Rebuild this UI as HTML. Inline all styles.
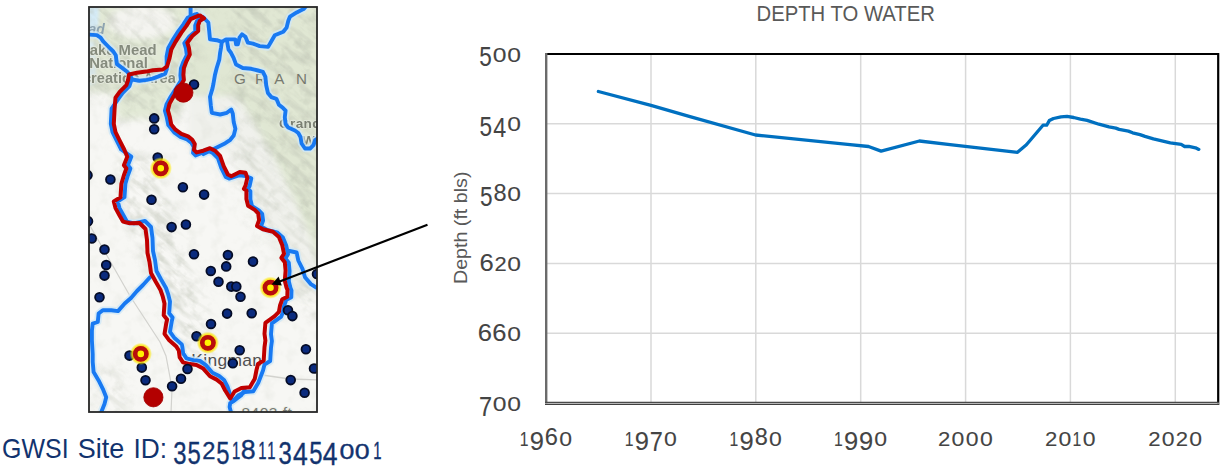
<!DOCTYPE html>
<html><head><meta charset="utf-8"><title>Depth to Water</title>
<style>
html,body{margin:0;padding:0;background:#fff;width:1225px;height:475px;overflow:hidden}
svg{position:absolute;left:0;top:0;font-family:"Liberation Sans",Arial,sans-serif}
</style></head><body>
<svg width="1225" height="475" viewBox="0 0 1225 475">
<defs><clipPath id="mc"><rect x="89" y="7" width="228" height="405"/></clipPath><filter id="bl" x="-20%" y="-20%" width="140%" height="140%"><feGaussianBlur stdDeviation="3"/></filter><filter id="bl1" x="-20%" y="-20%" width="140%" height="140%"><feGaussianBlur stdDeviation="1.5"/></filter><filter id="tb" x="-5%" y="-20%" width="110%" height="140%"><feGaussianBlur stdDeviation="0.45"/></filter><filter id="rb" x="-60%" y="-60%" width="220%" height="220%"><feGaussianBlur stdDeviation="0.5"/></filter><filter id="bl6" x="-30%" y="-30%" width="160%" height="160%"><feGaussianBlur stdDeviation="6"/></filter><filter id="tex" x="0" y="0" width="100%" height="100%"><feTurbulence type="fractalNoise" baseFrequency="0.08" numOctaves="3" seed="11"/><feColorMatrix type="matrix" values="0 0 0 0 0.45  0 0 0 0 0.48  0 0 0 0 0.40  0 0 0 -2.4 1.25"/></filter><filter id="rid" x="0" y="0" width="100%" height="100%"><feTurbulence type="fractalNoise" baseFrequency="0.035 0.16" numOctaves="3" seed="4"/><feColorMatrix type="matrix" values="0 0 0 0 0.50  0 0 0 0 0.53  0 0 0 0 0.45  3.2 0 0 0 -1.45"/></filter><mask id="tm" maskUnits="userSpaceOnUse" x="80" y="0" width="250" height="420"><g filter="url(#bl6)" fill="#fff"><path d="M86,0 L210,0 L205,40 L190,70 L178,118 L118,120 L112,96 L86,96 Z"/><path d="M228,0 L330,0 L330,300 L300,260 L270,215 L240,160 L232,100 Z"/><path d="M120,150 L150,160 L178,225 L200,295 L215,345 L196,358 L168,322 L150,272 L128,222 L120,190 Z" fill="#fff"/><path d="M98,368 L124,370 L128,420 L96,420 Z" fill="#999"/><path d="M232,150 L262,190 L290,235 L270,245 L240,200 Z" fill="#999"/><path d="M290,200 L330,230 L330,330 L295,300 Z" fill="#aaa"/><path d="M196,300 L215,305 L205,330 Z" fill="#777"/><path d="M236,100 L252,125 L272,160 L290,200 L305,240 L296,246 L278,205 L258,168 L240,135 L232,112 Z" fill="#000"/><path d="M196,100 L230,100 L234,150 L200,150 Z" fill="#000"/><ellipse cx="142" cy="20" rx="32" ry="15" fill="#222"/></g></mask><radialGradient id="halo"><stop offset="0.6" stop-color="#ffd800" stop-opacity="1"/><stop offset="0.8" stop-color="#ffe400" stop-opacity="0.75"/><stop offset="1" stop-color="#fff000" stop-opacity="0"/></radialGradient></defs>
<g clip-path="url(#mc)">
<rect x="88" y="6" width="230" height="407" fill="#f7f7f4"/>
<g filter="url(#bl)">
<path d="M86,4 L200,4 L199,40 L192,64 L184,100 L176,118 L118,119 L112,93 L86,91 Z" fill="#e2e9d6" filter="url(#bl1)"/>
<ellipse cx="142" cy="22" rx="34" ry="17" fill="#f4f4f0"/>
<path d="M190,4 L322,4 L322,282 L312,242 L295,202 L276,162 L256,127 L241,102 L232,96 L190,96 Z" fill="#e0e7d3"/>
<path d="M188,96 L232,96 L241,102 L256,127 L276,162 L295,202 L312,242 L322,282 L322,300 L292,300 L270,245 L250,205 L240,175 L232,150 L188,150 Z" fill="#f0f1ec"/>
</g>
<path d="M86,4 L99,4 L98,30 L94,33 L86,34 Z" fill="#d5ebf6" filter="url(#bl1)"/>
<ellipse cx="197" cy="12" rx="7" ry="6" fill="#d8eef6" filter="url(#bl1)"/>
<path d="M86,40 L95,42 L96,84 L86,86 Z" fill="#dcebee" filter="url(#bl1)"/>
<rect x="88" y="6" width="230" height="407" filter="url(#tex)" opacity="0.12"/>
<rect x="88" y="6" width="230" height="407" filter="url(#tex)" opacity="0.35" mask="url(#tm)"/>
<g mask="url(#tm)"><rect x="-200" y="-200" width="700" height="800" filter="url(#rid)" opacity="0.42" transform="rotate(40 200 200)"/></g>
</g>
<g clip-path="url(#mc)" font-family="Liberation Sans, sans-serif">
<path d="M89,224 L130,296 L160,342 L166,356 L172,388 L171,414" fill="none" stroke="#d2d2ce" stroke-width="1.2"/>
<path d="M262,375 L290,379 L320,380" fill="none" stroke="#d2d2ce" stroke-width="1.4"/>
<text x="80.6" y="54.6" font-size="14" textLength="76" lengthAdjust="spacingAndGlyphs" font-weight="bold" fill="#858b7d" stroke="#e6eadf" stroke-width="1.6" paint-order="stroke" stroke-linejoin="round" filter="url(#tb)">Lake Mead</text>
<text x="89.2" y="67.5" font-size="14" textLength="58.6" lengthAdjust="spacingAndGlyphs" font-weight="bold" fill="#858b7d" stroke="#e6eadf" stroke-width="1.6" paint-order="stroke" stroke-linejoin="round" filter="url(#tb)">National</text>
<text x="64.3" y="83.4" font-size="14" textLength="111.5" lengthAdjust="spacingAndGlyphs" font-weight="bold" fill="#858b7d" stroke="#e6eadf" stroke-width="1.6" paint-order="stroke" stroke-linejoin="round" filter="url(#tb)">Recreation Area</text>
<text x="88.5" y="34.2" font-size="14" font-style="italic" font-weight="bold" fill="#8ea3b0" filter="url(#tb)">ad</text>
<text y="84" font-size="15.2" text-anchor="middle" fill="#77796f"><tspan x="240">G</tspan><tspan x="260.5">R</tspan><tspan x="279.2">A</tspan><tspan x="301.5">N</tspan></text>
<text x="279.0" y="127.7" font-size="13.6" letter-spacing="0.4" font-weight="bold" fill="#7a7f72" stroke="#e6eadf" stroke-width="1.4" paint-order="stroke" stroke-linejoin="round" filter="url(#tb)">Grand</text>
<text x="302.2" y="144.5" font-size="13.6" font-weight="bold" fill="#7a7f72" stroke="#e6eadf" stroke-width="1.4" paint-order="stroke" stroke-linejoin="round" filter="url(#tb)">Wash</text>
<text x="241.5" y="418.2" font-size="15.5" letter-spacing="0.5" fill="#797c74" stroke="#eef0ea" stroke-width="2.2" paint-order="stroke" stroke-linejoin="round">8403 ft</text>
<text x="191.3" y="366.2" font-size="17.4" letter-spacing="0.35" fill="#505050" stroke="#f4f4f2" stroke-width="1.6" paint-order="stroke" stroke-linejoin="round">Kingman</text>
<path d="M86.0,34.5 L96.8,35.1 L100.6,37.6 L103.2,41.4 L108.2,46.5 L113.3,51.5 L115.8,55.3 L116.4,60.4 L117.0,64.2 L122.1,67.9 L127.2,71.7 L130.5,76.0 L132.0,79.5" fill="none" stroke="#cfe7f6" stroke-width="7.5" stroke-linejoin="round" stroke-linecap="round" opacity="0.8"/>
<path d="M190.6,4.0 L190.6,17.5 L186.0,22.0" fill="none" stroke="#cfe7f6" stroke-width="7.5" stroke-linejoin="round" stroke-linecap="round" opacity="0.8"/>
<path d="M203.0,17.0 L208.3,22.5 L209.2,31.0 L210.0,39.4 L216.7,40.2 L221.8,41.9 L221.0,47.8 L220.1,52.8 L219.3,59.6 L216.7,68.0 L215.0,74.7 L213.4,84.0 L212.5,88.4 L210.0,96.8 L210.8,105.3 L211.8,112.8 L220.2,114.5 L226.9,112.8 L231.2,109.5 L232.8,113.7 L233.7,122.1 L235.4,128.8 L233.7,135.6 L230.3,139.8 L225.3,143.2 L216.8,147.4 L210.1,150.7 L203.4,154.1" fill="none" stroke="#cfe7f6" stroke-width="7.5" stroke-linejoin="round" stroke-linecap="round" opacity="0.8"/>
<path d="M221.8,41.9 L226.0,39.4 L235.3,39.4 L236.1,44.4 L237.8,44.4 L239.5,37.7 L242.0,34.3 L245.4,36.8 L247.9,42.7 L253.0,43.6 L259.7,46.1 L268.1,46.9 L271.5,41.0 L274.8,35.2 L283.3,31.8 L286.6,27.6 L288.3,20.8 L290.0,16.6 L296.7,12.4 L303.5,9.1 L308.0,4.0" fill="none" stroke="#cfe7f6" stroke-width="7.5" stroke-linejoin="round" stroke-linecap="round" opacity="0.8"/>
<path d="M227.0,41.0 L228.5,49.5 L231.0,52.8 L233.6,57.9 L236.1,64.6 L242.8,68.0 L251.3,68.8 L258.0,70.5 L262.9,71.8 L265.4,76.9 L266.2,85.3 L267.9,92.9 L271.3,97.1 L276.4,98.8 L278.9,104.7 L283.1,108.1 L285.6,110.6 L284.8,117.3 L285.6,124.1 L288.2,127.5 L294.9,130.5 L298.3,133.0 L300.5,137.0 L301.6,143.5 L305.0,148.5 L310.1,148.5 L313.5,145.2 L315.1,140.1 L320.0,137.0" fill="none" stroke="#cfe7f6" stroke-width="7.5" stroke-linejoin="round" stroke-linecap="round" opacity="0.8"/>
<path d="M150.0,277.3 L143.0,285.0 L137.0,291.0 L131.0,298.0 L124.7,303.5 L118.0,311.1 L111.3,310.2 L102.8,310.2 L98.6,313.6 L97.8,322.0 L92.7,323.7 L91.9,330.4 L91.9,340.5 L92.7,354.0 L92.7,361.9 L93.6,372.0 L98.6,380.4 L102.8,388.8 L106.2,397.3 L104.5,404.0 L100.5,414.0" fill="none" stroke="#cfe7f6" stroke-width="7.5" stroke-linejoin="round" stroke-linecap="round" opacity="0.8"/>
<path d="M244.6,390.0 L241.3,395.2 L238.0,397.8 L233.5,401.1 L230.2,403.1 L229.6,407.0 L231.5,414.0" fill="none" stroke="#cfe7f6" stroke-width="7.5" stroke-linejoin="round" stroke-linecap="round" opacity="0.8"/>
<path d="M289.5,251.0 L296.6,252.5 L298.3,260.5 L302.5,268.9 L305.0,277.3 L310.9,284.1 L316.0,287.5 L320.0,289.0" fill="none" stroke="#cfe7f6" stroke-width="7.5" stroke-linejoin="round" stroke-linecap="round" opacity="0.8"/>
<path d="M197.0,16.0 L201.1,18.8 L196.9,21.3 L195.2,25.5 L195.2,31.4 L189.3,36.5 L184.3,43.2 L185.9,48.3 L186.8,55.0 L183.4,61.8 L180.9,68.5 L180.4,75.2 L180.9,80.5 L175.8,88.9 L170.8,96.5 L166.6,104.1 L164.9,110.8 L166.6,116.7 L168.3,125.1 L174.5,132.7 L180.4,136.9 L187.1,139.4 L191.3,142.8 L193.8,147.0 L193.0,152.9 L195.5,155.4 L201.1,153.1 L207.8,150.6 L212.8,153.1 L217.9,158.2 L221.5,168.5 L225.7,176.9 L229.1,178.6 L239.7,175.2 L245.6,176.0 L251.3,178.4 L249.6,186.0 L247.9,189.3 L250.4,191.0 L250.4,199.5 L252.1,206.2 L258.8,210.4 L262.2,213.9 L263.1,220.6 L261.0,226.4 L266.9,229.8 L277.0,232.3 L282.9,237.4 L286.3,245.8 L288.0,254.2 L285.4,258.4 L288.8,262.7 L289.6,271.1 L288.8,281.2 L290.5,288.0 L291.5,290.5 L291.3,297.2 L286.3,299.8 L284.1,305.7 L282.9,312.4 L281.2,316.6 L271.9,323.4 L271.0,334.3 L271.9,341.1 L271.0,347.8 L270.2,361.0 L264.5,364.5 L263.0,370.5 L258.3,382.7 L253.3,391.2 L244.9,392.0 L238.1,395.5 L232.5,401.5 L227.7,387.0 L224.3,380.3 L219.2,376.1 L212.5,372.7 L205.8,365.1 L200.0,360.9 L193.3,360.1 L186.5,358.4 L183.2,353.4 L182.3,346.6 L181.8,344.4 L174.2,337.7 L170.0,331.8 L171.7,321.7 L172.6,317.5 L169.2,313.3 L170.0,301.5 L168.3,294.7 L166.0,288.0 L161.1,279.5 L156.5,271.0 L155.0,260.0 L153.0,251.0 L152.5,238.0 L151.0,227.0 L145.0,221.0 L133.8,223.3 L127.0,221.6 L123.7,215.7 L119.5,208.1 L117.8,201.4 L124.5,197.2 L125.4,183.7 L127.9,175.3 L130.4,168.5 L127.9,165.2 L131.3,156.7 L121.2,149.5 L116.7,140.6 L112.5,132.2 L110.8,123.8 L111.6,108.6 L118.5,98.7 L122.7,92.8 L129.4,86.1 L131.1,81.0 L132.0,79.5 L139.5,80.7 L146.8,79.9 L152.5,78.6 L158.0,76.6 L165.2,73.6 L166.8,69.0 L166.6,56.4 L168.3,48.0 L172.5,40.4 L178.4,31.1 L183.4,24.4 L187.6,17.7 L195.2,14.3 L197.0,14.0 Z" fill="none" stroke="#cfe7f6" stroke-width="7.5" stroke-linejoin="round" stroke-linecap="round" opacity="0.8"/>
<path d="M86.0,34.5 L96.8,35.1 L100.6,37.6 L103.2,41.4 L108.2,46.5 L113.3,51.5 L115.8,55.3 L116.4,60.4 L117.0,64.2 L122.1,67.9 L127.2,71.7 L130.5,76.0 L132.0,79.5" fill="none" stroke="#1879f2" stroke-width="3.9" stroke-linejoin="round" stroke-linecap="round"/>
<path d="M190.6,4.0 L190.6,17.5 L186.0,22.0" fill="none" stroke="#1879f2" stroke-width="3.9" stroke-linejoin="round" stroke-linecap="round"/>
<path d="M203.0,17.0 L208.3,22.5 L209.2,31.0 L210.0,39.4 L216.7,40.2 L221.8,41.9 L221.0,47.8 L220.1,52.8 L219.3,59.6 L216.7,68.0 L215.0,74.7 L213.4,84.0 L212.5,88.4 L210.0,96.8 L210.8,105.3 L211.8,112.8 L220.2,114.5 L226.9,112.8 L231.2,109.5 L232.8,113.7 L233.7,122.1 L235.4,128.8 L233.7,135.6 L230.3,139.8 L225.3,143.2 L216.8,147.4 L210.1,150.7 L203.4,154.1" fill="none" stroke="#1879f2" stroke-width="3.9" stroke-linejoin="round" stroke-linecap="round"/>
<path d="M221.8,41.9 L226.0,39.4 L235.3,39.4 L236.1,44.4 L237.8,44.4 L239.5,37.7 L242.0,34.3 L245.4,36.8 L247.9,42.7 L253.0,43.6 L259.7,46.1 L268.1,46.9 L271.5,41.0 L274.8,35.2 L283.3,31.8 L286.6,27.6 L288.3,20.8 L290.0,16.6 L296.7,12.4 L303.5,9.1 L308.0,4.0" fill="none" stroke="#1879f2" stroke-width="3.9" stroke-linejoin="round" stroke-linecap="round"/>
<path d="M227.0,41.0 L228.5,49.5 L231.0,52.8 L233.6,57.9 L236.1,64.6 L242.8,68.0 L251.3,68.8 L258.0,70.5 L262.9,71.8 L265.4,76.9 L266.2,85.3 L267.9,92.9 L271.3,97.1 L276.4,98.8 L278.9,104.7 L283.1,108.1 L285.6,110.6 L284.8,117.3 L285.6,124.1 L288.2,127.5 L294.9,130.5 L298.3,133.0 L300.5,137.0 L301.6,143.5 L305.0,148.5 L310.1,148.5 L313.5,145.2 L315.1,140.1 L320.0,137.0" fill="none" stroke="#1879f2" stroke-width="3.9" stroke-linejoin="round" stroke-linecap="round"/>
<path d="M150.0,277.3 L143.0,285.0 L137.0,291.0 L131.0,298.0 L124.7,303.5 L118.0,311.1 L111.3,310.2 L102.8,310.2 L98.6,313.6 L97.8,322.0 L92.7,323.7 L91.9,330.4 L91.9,340.5 L92.7,354.0 L92.7,361.9 L93.6,372.0 L98.6,380.4 L102.8,388.8 L106.2,397.3 L104.5,404.0 L100.5,414.0" fill="none" stroke="#1879f2" stroke-width="3.9" stroke-linejoin="round" stroke-linecap="round"/>
<path d="M244.6,390.0 L241.3,395.2 L238.0,397.8 L233.5,401.1 L230.2,403.1 L229.6,407.0 L231.5,414.0" fill="none" stroke="#1879f2" stroke-width="3.9" stroke-linejoin="round" stroke-linecap="round"/>
<path d="M289.5,251.0 L296.6,252.5 L298.3,260.5 L302.5,268.9 L305.0,277.3 L310.9,284.1 L316.0,287.5 L320.0,289.0" fill="none" stroke="#1879f2" stroke-width="3.9" stroke-linejoin="round" stroke-linecap="round"/>
<path d="M197.0,16.0 L201.1,18.8 L196.9,21.3 L195.2,25.5 L195.2,31.4 L189.3,36.5 L184.3,43.2 L185.9,48.3 L186.8,55.0 L183.4,61.8 L180.9,68.5 L180.4,75.2 L180.9,80.5 L175.8,88.9 L170.8,96.5 L166.6,104.1 L164.9,110.8 L166.6,116.7 L168.3,125.1 L174.5,132.7 L180.4,136.9 L187.1,139.4 L191.3,142.8 L193.8,147.0 L193.0,152.9 L195.5,155.4 L201.1,153.1 L207.8,150.6 L212.8,153.1 L217.9,158.2 L221.5,168.5 L225.7,176.9 L229.1,178.6 L239.7,175.2 L245.6,176.0 L251.3,178.4 L249.6,186.0 L247.9,189.3 L250.4,191.0 L250.4,199.5 L252.1,206.2 L258.8,210.4 L262.2,213.9 L263.1,220.6 L261.0,226.4 L266.9,229.8 L277.0,232.3 L282.9,237.4 L286.3,245.8 L288.0,254.2 L285.4,258.4 L288.8,262.7 L289.6,271.1 L288.8,281.2 L290.5,288.0 L291.5,290.5 L291.3,297.2 L286.3,299.8 L284.1,305.7 L282.9,312.4 L281.2,316.6 L271.9,323.4 L271.0,334.3 L271.9,341.1 L271.0,347.8 L270.2,361.0 L264.5,364.5 L263.0,370.5 L258.3,382.7 L253.3,391.2 L244.9,392.0 L238.1,395.5 L232.5,401.5 L227.7,387.0 L224.3,380.3 L219.2,376.1 L212.5,372.7 L205.8,365.1 L200.0,360.9 L193.3,360.1 L186.5,358.4 L183.2,353.4 L182.3,346.6 L181.8,344.4 L174.2,337.7 L170.0,331.8 L171.7,321.7 L172.6,317.5 L169.2,313.3 L170.0,301.5 L168.3,294.7 L166.0,288.0 L161.1,279.5 L156.5,271.0 L155.0,260.0 L153.0,251.0 L152.5,238.0 L151.0,227.0 L145.0,221.0 L133.8,223.3 L127.0,221.6 L123.7,215.7 L119.5,208.1 L117.8,201.4 L124.5,197.2 L125.4,183.7 L127.9,175.3 L130.4,168.5 L127.9,165.2 L131.3,156.7 L121.2,149.5 L116.7,140.6 L112.5,132.2 L110.8,123.8 L111.6,108.6 L118.5,98.7 L122.7,92.8 L129.4,86.1 L131.1,81.0 L132.0,79.5 L139.5,80.7 L146.8,79.9 L152.5,78.6 L158.0,76.6 L165.2,73.6 L166.8,69.0 L166.6,56.4 L168.3,48.0 L172.5,40.4 L178.4,31.1 L183.4,24.4 L187.6,17.7 L195.2,14.3 L197.0,14.0 Z" fill="none" stroke="#1879f2" stroke-width="3.9" stroke-linejoin="round" stroke-linecap="round"/>
<path d="M200.0,15.5 L204.1,18.3 L199.9,20.8 L198.2,25.0 L198.2,30.9 L192.3,36.0 L187.3,42.7 L188.9,47.8 L189.8,54.5 L186.4,61.3 L183.9,68.0 L183.4,74.7 L183.9,80.0 L178.8,88.4 L173.8,96.0 L169.6,103.6 L167.9,110.3 L169.6,116.2 L171.3,124.6 L175.5,129.7 L181.4,133.9 L188.1,136.4 L192.3,139.8 L194.8,144.0 L194.0,149.9 L196.5,152.4 L203.3,150.7 L210.0,148.2 L215.0,150.7 L220.1,155.8 L223.7,166.1 L227.9,174.5 L231.3,176.2 L239.7,172.0 L245.6,172.8 L247.3,177.9 L245.6,185.5 L243.9,188.8 L246.4,190.5 L246.4,199.0 L248.1,205.7 L254.8,209.9 L258.2,213.4 L259.1,220.1 L257.0,225.9 L262.9,229.3 L273.0,231.8 L278.9,236.9 L282.3,245.3 L284.0,253.7 L281.4,257.9 L284.8,262.2 L285.6,270.6 L284.8,280.7 L286.5,287.5 L287.5,290.0 L287.3,296.7 L282.3,299.3 L280.1,305.2 L278.9,311.9 L274.7,316.1 L265.4,322.9 L264.5,333.8 L265.4,340.6 L264.5,347.3 L263.7,360.5 L258.0,364.0 L256.5,370.0 L254.8,378.7 L249.8,387.2 L241.4,388.0 L234.6,391.5 L230.2,398.5 L225.2,390.5 L221.8,383.8 L216.7,379.6 L210.0,376.2 L203.3,368.6 L196.5,364.9 L189.8,364.1 L183.0,362.4 L179.7,357.4 L178.8,350.6 L176.3,346.4 L168.7,339.7 L164.5,333.8 L166.2,323.7 L167.1,319.5 L163.7,315.3 L164.5,303.5 L162.8,296.7 L160.5,290.0 L155.6,281.5 L151.0,273.0 L149.5,262.0 L147.5,253.0 L147.0,240.0 L145.5,229.0 L139.5,223.0 L129.8,223.3 L123.0,221.6 L119.7,215.7 L115.5,208.1 L113.8,201.4 L120.5,197.2 L121.4,183.7 L123.9,175.3 L126.4,168.5 L123.9,165.2 L127.3,156.7 L124.2,149.5 L119.7,140.6 L115.5,132.2 L113.8,123.8 L114.6,108.6 L115.5,97.7 L119.7,91.8 L126.4,85.1 L128.1,80.0 L129.0,74.5 L137.0,72.8 L146.0,71.6 L153.0,70.2 L162.8,69.5 L167.1,66.3 L169.6,57.9 L171.3,49.5 L175.5,41.9 L181.4,32.6 L186.4,25.9 L190.6,19.2 L198.2,15.8 L200.0,15.5 Z" fill="none" stroke="#c00000" stroke-width="4.0" stroke-linejoin="round"/>
<circle cx="194" cy="84.5" r="4.4" fill="#0b2b7e" stroke="#050c26" stroke-width="1.8"/>
<circle cx="154.2" cy="118.4" r="4.4" fill="#0b2b7e" stroke="#050c26" stroke-width="1.8"/>
<circle cx="154.2" cy="129.3" r="4.4" fill="#0b2b7e" stroke="#050c26" stroke-width="1.8"/>
<circle cx="157.7" cy="157.6" r="4.4" fill="#0b2b7e" stroke="#050c26" stroke-width="1.8"/>
<circle cx="110.4" cy="179.5" r="4.4" fill="#0b2b7e" stroke="#050c26" stroke-width="1.8"/>
<circle cx="151.5" cy="199.7" r="4.4" fill="#0b2b7e" stroke="#050c26" stroke-width="1.8"/>
<circle cx="182.9" cy="187.3" r="4.4" fill="#0b2b7e" stroke="#050c26" stroke-width="1.8"/>
<circle cx="204.1" cy="194.6" r="4.4" fill="#0b2b7e" stroke="#050c26" stroke-width="1.8"/>
<circle cx="87.5" cy="175.2" r="4.4" fill="#0b2b7e" stroke="#050c26" stroke-width="1.8"/>
<circle cx="88" cy="221.3" r="4.4" fill="#0b2b7e" stroke="#050c26" stroke-width="1.8"/>
<circle cx="91.7" cy="238.5" r="4.4" fill="#0b2b7e" stroke="#050c26" stroke-width="1.8"/>
<circle cx="104.5" cy="249.5" r="4.4" fill="#0b2b7e" stroke="#050c26" stroke-width="1.8"/>
<circle cx="106.2" cy="265.1" r="4.4" fill="#0b2b7e" stroke="#050c26" stroke-width="1.8"/>
<circle cx="104.5" cy="275.6" r="4.4" fill="#0b2b7e" stroke="#050c26" stroke-width="1.8"/>
<circle cx="99.5" cy="297.2" r="4.4" fill="#0b2b7e" stroke="#050c26" stroke-width="1.8"/>
<circle cx="171.6" cy="227.1" r="4.4" fill="#0b2b7e" stroke="#050c26" stroke-width="1.8"/>
<circle cx="185.9" cy="224.5" r="4.4" fill="#0b2b7e" stroke="#050c26" stroke-width="1.8"/>
<circle cx="194" cy="254.2" r="4.4" fill="#0b2b7e" stroke="#050c26" stroke-width="1.8"/>
<circle cx="210.8" cy="271" r="4.4" fill="#0b2b7e" stroke="#050c26" stroke-width="1.8"/>
<circle cx="218.5" cy="281.7" r="4.4" fill="#0b2b7e" stroke="#050c26" stroke-width="1.8"/>
<circle cx="227.9" cy="255.1" r="4.4" fill="#0b2b7e" stroke="#050c26" stroke-width="1.8"/>
<circle cx="226.2" cy="266.4" r="4.4" fill="#0b2b7e" stroke="#050c26" stroke-width="1.8"/>
<circle cx="253" cy="261.6" r="4.4" fill="#0b2b7e" stroke="#050c26" stroke-width="1.8"/>
<circle cx="231.3" cy="286.6" r="4.4" fill="#0b2b7e" stroke="#050c26" stroke-width="1.8"/>
<circle cx="236.3" cy="286.6" r="4.4" fill="#0b2b7e" stroke="#050c26" stroke-width="1.8"/>
<circle cx="240.5" cy="296.7" r="4.4" fill="#0b2b7e" stroke="#050c26" stroke-width="1.8"/>
<circle cx="227.1" cy="313.6" r="4.4" fill="#0b2b7e" stroke="#050c26" stroke-width="1.8"/>
<circle cx="251.7" cy="313.2" r="4.4" fill="#0b2b7e" stroke="#050c26" stroke-width="1.8"/>
<circle cx="211" cy="324" r="4.4" fill="#0b2b7e" stroke="#050c26" stroke-width="1.8"/>
<circle cx="196.5" cy="336.3" r="4.4" fill="#0b2b7e" stroke="#050c26" stroke-width="1.8"/>
<circle cx="239.7" cy="350.3" r="4.4" fill="#0b2b7e" stroke="#050c26" stroke-width="1.8"/>
<circle cx="232.8" cy="363.3" r="4.4" fill="#0b2b7e" stroke="#050c26" stroke-width="1.8"/>
<circle cx="187.5" cy="369" r="4.4" fill="#0b2b7e" stroke="#050c26" stroke-width="1.8"/>
<circle cx="181" cy="378.7" r="4.4" fill="#0b2b7e" stroke="#050c26" stroke-width="1.8"/>
<circle cx="172.1" cy="386.3" r="4.4" fill="#0b2b7e" stroke="#050c26" stroke-width="1.8"/>
<circle cx="145.5" cy="380.2" r="4.4" fill="#0b2b7e" stroke="#050c26" stroke-width="1.8"/>
<circle cx="141.8" cy="367.6" r="4.4" fill="#0b2b7e" stroke="#050c26" stroke-width="1.8"/>
<circle cx="129.5" cy="355.6" r="4.4" fill="#0b2b7e" stroke="#050c26" stroke-width="1.8"/>
<circle cx="288" cy="310.2" r="4.4" fill="#0b2b7e" stroke="#050c26" stroke-width="1.8"/>
<circle cx="292.4" cy="316.1" r="4.4" fill="#0b2b7e" stroke="#050c26" stroke-width="1.8"/>
<circle cx="305.9" cy="349.2" r="4.4" fill="#0b2b7e" stroke="#050c26" stroke-width="1.8"/>
<circle cx="314" cy="368.5" r="4.4" fill="#0b2b7e" stroke="#050c26" stroke-width="1.8"/>
<circle cx="290.7" cy="380.1" r="4.4" fill="#0b2b7e" stroke="#050c26" stroke-width="1.8"/>
<circle cx="304.6" cy="392.7" r="4.4" fill="#0b2b7e" stroke="#050c26" stroke-width="1.8"/>
<circle cx="317" cy="274" r="4.4" fill="#0b2b7e" stroke="#050c26" stroke-width="1.8"/>
<circle cx="183.4" cy="92.6" r="9.6" fill="#b30000" stroke="#a40000" stroke-width="0.8"/>
<circle cx="153.4" cy="397.3" r="9.6" fill="#b30000" stroke="#a40000" stroke-width="0.8"/>
<circle cx="160.8" cy="168.3" r="11.2" fill="url(#halo)"/>
<circle cx="160.8" cy="168.3" r="5.6" fill="#fff200" stroke="#b80808" stroke-width="4.6" filter="url(#rb)"/>
<circle cx="270.5" cy="287.7" r="11.2" fill="url(#halo)"/>
<circle cx="270.5" cy="287.7" r="5.6" fill="#fff200" stroke="#b80808" stroke-width="4.6" filter="url(#rb)"/>
<circle cx="207.9" cy="342.8" r="11.2" fill="url(#halo)"/>
<circle cx="207.9" cy="342.8" r="5.6" fill="#fff200" stroke="#b80808" stroke-width="4.6" filter="url(#rb)"/>
<circle cx="140.8" cy="353.9" r="11.2" fill="url(#halo)"/>
<circle cx="140.8" cy="353.9" r="5.6" fill="#fff200" stroke="#b80808" stroke-width="4.6" filter="url(#rb)"/>
</g>
<rect x="89" y="7" width="228" height="405" fill="none" stroke="#262626" stroke-width="1.8"/>
<line x1="427.5" y1="224.7" x2="279" y2="281.8" stroke="#000" stroke-width="2.2"/>
<path d="M271.6,284.6 L278.6,276.6 L281.8,285.4 Z" fill="#000"/>
<line x1="651.0" y1="55" x2="651.0" y2="402" stroke="#d9d9d9" stroke-width="1.5"/>
<line x1="755.8" y1="55" x2="755.8" y2="402" stroke="#d9d9d9" stroke-width="1.5"/>
<line x1="860.7" y1="55" x2="860.7" y2="402" stroke="#d9d9d9" stroke-width="1.5"/>
<line x1="965.6" y1="55" x2="965.6" y2="402" stroke="#d9d9d9" stroke-width="1.5"/>
<line x1="1070.4" y1="55" x2="1070.4" y2="402" stroke="#d9d9d9" stroke-width="1.5"/>
<line x1="1175.3" y1="55" x2="1175.3" y2="402" stroke="#d9d9d9" stroke-width="1.5"/>
<line x1="547" y1="123.8" x2="1217" y2="123.8" stroke="#d9d9d9" stroke-width="1.5"/>
<line x1="547" y1="193.6" x2="1217" y2="193.6" stroke="#d9d9d9" stroke-width="1.5"/>
<line x1="547" y1="263.4" x2="1217" y2="263.4" stroke="#d9d9d9" stroke-width="1.5"/>
<line x1="547" y1="333.2" x2="1217" y2="333.2" stroke="#d9d9d9" stroke-width="1.5"/>
<line x1="545" y1="54" x2="1219" y2="54" stroke="#000" stroke-width="2.2"/>
<line x1="1218.2" y1="53" x2="1218.2" y2="405" stroke="#000" stroke-width="2.2"/>
<line x1="546.2" y1="53" x2="546.2" y2="404" stroke="#6b6b6b" stroke-width="2.4"/>
<line x1="545" y1="402.4" x2="1219" y2="402.4" stroke="#404040" stroke-width="1.2"/>
<line x1="545" y1="404.4" x2="1219" y2="404.4" stroke="#404040" stroke-width="1.2"/>
<line x1="545" y1="403.4" x2="1219" y2="403.4" stroke="#b0b0b0" stroke-width="0.9"/>
<path d="M598.4,91.5 L651.0,105.3 L690.0,116.6 L755.5,135.0 L850.0,144.6 L868.5,146.5 L881.1,151.1 L919.4,141.0 L950.0,144.6 L1017.5,152.3 L1026.4,144.8 L1043.0,125.2 L1046.7,125.2 L1049.3,120.6 L1053.5,118.5 L1061.0,116.8 L1067.0,116.4 L1073.7,117.5 L1080.4,119.1 L1087.1,120.4 L1098.9,124.2 L1109.0,126.9 L1115.8,128.1 L1119.1,129.4 L1128.4,131.1 L1132.6,132.8 L1140.0,134.6 L1145.0,136.4 L1153.4,138.9 L1170.3,142.9 L1181.2,144.4 L1184.6,146.5 L1188.8,146.3 L1195.5,147.8 L1198.8,149.4" fill="none" stroke="#0070c0" stroke-width="3.3" stroke-linejoin="round" stroke-linecap="round"/>
<text x="845.7" y="20.8" text-anchor="middle" font-size="21.5" fill="#595959" textLength="178.4" lengthAdjust="spacingAndGlyphs">DEPTH TO WATER</text>
<text transform="translate(466.9,227.8) rotate(-90)" text-anchor="middle" font-size="18.2" fill="#595959" textLength="112.5" lengthAdjust="spacingAndGlyphs">Depth (ft bls)</text>
<text fill="#444444" stroke="#444444" stroke-width="0.1"><tspan x="479.30" y="66.43" font-size="26.79" textLength="12.55" lengthAdjust="spacingAndGlyphs">5</tspan><tspan x="492.74" y="61.61" font-size="19.49" textLength="13.73" lengthAdjust="spacingAndGlyphs">0</tspan><tspan x="507.34" y="61.61" font-size="19.49" textLength="13.73" lengthAdjust="spacingAndGlyphs">0</tspan></text>
<text fill="#444444" stroke="#444444" stroke-width="0.1"><tspan x="479.40" y="136.23" font-size="26.79" textLength="12.55" lengthAdjust="spacingAndGlyphs">5</tspan><tspan x="493.27" y="136.50" font-size="27.18" textLength="12.91" lengthAdjust="spacingAndGlyphs">4</tspan><tspan x="507.34" y="131.41" font-size="19.49" textLength="13.73" lengthAdjust="spacingAndGlyphs">0</tspan></text>
<text fill="#444444" stroke="#444444" stroke-width="0.1"><tspan x="480.00" y="206.03" font-size="26.79" textLength="12.55" lengthAdjust="spacingAndGlyphs">5</tspan><tspan x="493.38" y="201.16" font-size="23.87" textLength="13.13" lengthAdjust="spacingAndGlyphs">8</tspan><tspan x="507.34" y="201.21" font-size="19.49" textLength="13.73" lengthAdjust="spacingAndGlyphs">0</tspan></text>
<text fill="#444444" stroke="#444444" stroke-width="0.1"><tspan x="479.59" y="270.96" font-size="23.87" textLength="14.24" lengthAdjust="spacingAndGlyphs">6</tspan><tspan x="494.40" y="271.20" font-size="19.77" textLength="12.20" lengthAdjust="spacingAndGlyphs">2</tspan><tspan x="507.34" y="271.01" font-size="19.49" textLength="13.73" lengthAdjust="spacingAndGlyphs">0</tspan></text>
<text fill="#444444" stroke="#444444" stroke-width="0.1"><tspan x="477.79" y="340.76" font-size="23.87" textLength="14.24" lengthAdjust="spacingAndGlyphs">6</tspan><tspan x="492.39" y="340.76" font-size="23.87" textLength="14.24" lengthAdjust="spacingAndGlyphs">6</tspan><tspan x="507.34" y="340.81" font-size="19.49" textLength="13.73" lengthAdjust="spacingAndGlyphs">0</tspan></text>
<text fill="#444444" stroke="#444444" stroke-width="0.1"><tspan x="479.00" y="415.70" font-size="27.18" textLength="13.08" lengthAdjust="spacingAndGlyphs">7</tspan><tspan x="492.74" y="410.61" font-size="19.49" textLength="13.73" lengthAdjust="spacingAndGlyphs">0</tspan><tspan x="507.34" y="410.61" font-size="19.49" textLength="13.73" lengthAdjust="spacingAndGlyphs">0</tspan></text>
<text fill="#444444" stroke="#444444" stroke-width="0.1"><tspan x="519.85" y="445.70" font-size="20.06" textLength="8.77" lengthAdjust="spacingAndGlyphs">1</tspan><tspan x="529.85" y="450.34" font-size="26.41" textLength="14.20" lengthAdjust="spacingAndGlyphs">9</tspan><tspan x="544.84" y="445.46" font-size="23.87" textLength="13.15" lengthAdjust="spacingAndGlyphs">6</tspan><tspan x="559.25" y="445.51" font-size="19.49" textLength="12.80" lengthAdjust="spacingAndGlyphs">0</tspan></text>
<text fill="#444444" stroke="#444444" stroke-width="0.1"><tspan x="624.82" y="445.70" font-size="20.06" textLength="8.77" lengthAdjust="spacingAndGlyphs">1</tspan><tspan x="634.82" y="450.34" font-size="26.41" textLength="14.20" lengthAdjust="spacingAndGlyphs">9</tspan><tspan x="649.82" y="450.60" font-size="27.18" textLength="13.08" lengthAdjust="spacingAndGlyphs">7</tspan><tspan x="664.02" y="445.51" font-size="19.49" textLength="12.80" lengthAdjust="spacingAndGlyphs">0</tspan></text>
<text fill="#444444" stroke="#444444" stroke-width="0.1"><tspan x="729.48" y="445.70" font-size="20.06" textLength="8.77" lengthAdjust="spacingAndGlyphs">1</tspan><tspan x="739.48" y="450.34" font-size="26.41" textLength="14.20" lengthAdjust="spacingAndGlyphs">9</tspan><tspan x="754.67" y="445.46" font-size="23.87" textLength="13.13" lengthAdjust="spacingAndGlyphs">8</tspan><tspan x="769.09" y="445.51" font-size="19.49" textLength="12.80" lengthAdjust="spacingAndGlyphs">0</tspan></text>
<text fill="#444444" stroke="#444444" stroke-width="0.1"><tspan x="834.00" y="445.70" font-size="20.06" textLength="8.77" lengthAdjust="spacingAndGlyphs">1</tspan><tspan x="844.00" y="450.34" font-size="26.41" textLength="14.20" lengthAdjust="spacingAndGlyphs">9</tspan><tspan x="859.00" y="450.34" font-size="26.41" textLength="14.20" lengthAdjust="spacingAndGlyphs">9</tspan><tspan x="874.30" y="445.51" font-size="19.49" textLength="12.80" lengthAdjust="spacingAndGlyphs">0</tspan></text>
<text fill="#444444" stroke="#444444" stroke-width="0.1"><tspan x="938.11" y="445.70" font-size="19.77" textLength="12.32" lengthAdjust="spacingAndGlyphs">2</tspan><tspan x="951.62" y="445.51" font-size="19.49" textLength="12.80" lengthAdjust="spacingAndGlyphs">0</tspan><tspan x="965.82" y="445.51" font-size="19.49" textLength="12.80" lengthAdjust="spacingAndGlyphs">0</tspan><tspan x="980.02" y="445.51" font-size="19.49" textLength="12.80" lengthAdjust="spacingAndGlyphs">0</tspan></text>
<text fill="#444444" stroke="#444444" stroke-width="0.1"><tspan x="1045.08" y="445.70" font-size="19.77" textLength="12.32" lengthAdjust="spacingAndGlyphs">2</tspan><tspan x="1058.59" y="445.51" font-size="19.49" textLength="12.80" lengthAdjust="spacingAndGlyphs">0</tspan><tspan x="1072.48" y="445.70" font-size="20.06" textLength="8.77" lengthAdjust="spacingAndGlyphs">1</tspan><tspan x="1082.79" y="445.51" font-size="19.49" textLength="12.80" lengthAdjust="spacingAndGlyphs">0</tspan></text>
<text fill="#444444" stroke="#444444" stroke-width="0.1"><tspan x="1148.29" y="445.70" font-size="19.77" textLength="12.32" lengthAdjust="spacingAndGlyphs">2</tspan><tspan x="1161.80" y="445.51" font-size="19.49" textLength="12.80" lengthAdjust="spacingAndGlyphs">0</tspan><tspan x="1175.79" y="445.70" font-size="19.77" textLength="12.32" lengthAdjust="spacingAndGlyphs">2</tspan><tspan x="1189.30" y="445.51" font-size="19.49" textLength="12.80" lengthAdjust="spacingAndGlyphs">0</tspan></text>
<text y="458.4" font-size="27.6" fill="#12336e"><tspan x="2.1" textLength="66.5" lengthAdjust="spacingAndGlyphs">GWSI</tspan> <tspan x="77.8" textLength="46.5" lengthAdjust="spacingAndGlyphs">Site</tspan> <tspan x="133.5" textLength="33.6" lengthAdjust="spacingAndGlyphs">ID:</tspan></text>
<text fill="#12336e" stroke="#12336e" stroke-width="0.35"><tspan x="173.19" y="464.39" font-size="30.93" textLength="13.26" lengthAdjust="spacingAndGlyphs">3</tspan><tspan x="187.55" y="464.39" font-size="31.38" textLength="13.26" lengthAdjust="spacingAndGlyphs">5</tspan><tspan x="202.22" y="458.90" font-size="23.07" textLength="13.17" lengthAdjust="spacingAndGlyphs">2</tspan><tspan x="216.25" y="464.39" font-size="31.38" textLength="13.26" lengthAdjust="spacingAndGlyphs">5</tspan><tspan x="231.92" y="458.90" font-size="23.40" textLength="8.26" lengthAdjust="spacingAndGlyphs">1</tspan><tspan x="240.85" y="458.62" font-size="27.97" textLength="14.91" lengthAdjust="spacingAndGlyphs">8</tspan><tspan x="258.37" y="458.90" font-size="23.40" textLength="8.26" lengthAdjust="spacingAndGlyphs">1</tspan><tspan x="267.17" y="458.90" font-size="23.40" textLength="8.26" lengthAdjust="spacingAndGlyphs">1</tspan><tspan x="278.44" y="464.39" font-size="30.93" textLength="13.26" lengthAdjust="spacingAndGlyphs">3</tspan><tspan x="292.99" y="464.70" font-size="31.83" textLength="14.79" lengthAdjust="spacingAndGlyphs">4</tspan><tspan x="309.20" y="464.39" font-size="31.38" textLength="13.26" lengthAdjust="spacingAndGlyphs">5</tspan><tspan x="322.69" y="464.70" font-size="31.83" textLength="14.79" lengthAdjust="spacingAndGlyphs">4</tspan><tspan x="339.56" y="458.67" font-size="22.74" textLength="14.89" lengthAdjust="spacingAndGlyphs">0</tspan><tspan x="354.76" y="458.67" font-size="22.74" textLength="14.89" lengthAdjust="spacingAndGlyphs">0</tspan><tspan x="373.17" y="458.90" font-size="23.40" textLength="8.26" lengthAdjust="spacingAndGlyphs">1</tspan></text>
</svg>
</body></html>
